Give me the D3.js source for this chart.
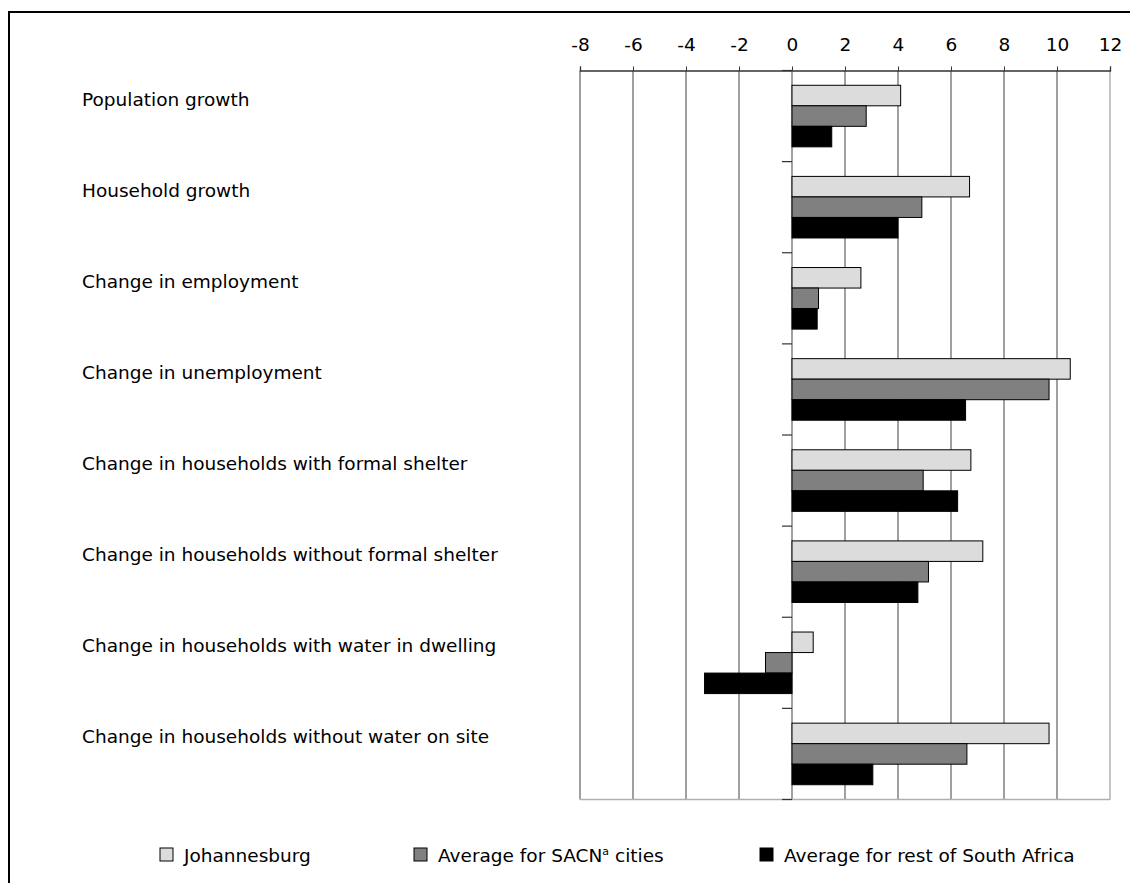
<!DOCTYPE html>
<html>
<head>
<meta charset="utf-8">
<script src="https://cdn.jsdelivr.net/npm/d3@7"></script>
<style>
html,body{margin:0;padding:0;background:#fff;}
svg text{font-family:"DejaVu Sans",Verdana,sans-serif;fill:#000;}
</style>
</head>
<body>
<svg id="chart" width="1130" height="883"></svg>
<script>
const categories = [
  "Population growth",
  "Household growth",
  "Change in employment",
  "Change in unemployment",
  "Change in households with formal shelter",
  "Change in households without formal shelter",
  "Change in households with water in dwelling",
  "Change in households without water on site"
];
const seriesNames = ["Johannesburg", "Average for SACN", "Average for rest of South Africa"];
const johannesburg = [4.1, 6.7, 2.6, 10.5, 6.75, 7.2, 0.8, 9.7];
const sacnAverage  = [2.8, 4.9, 1.0, 9.7, 4.95, 5.15, -1.0, 6.6];
const restOfSA     = [1.5, 4.0, 0.95, 6.55, 6.25, 4.75, -3.3, 3.05];
const tickValues = [-8, -6, -4, -2, 0, 2, 4, 6, 8, 10, 12];
const colors = ["#dcdcdc", "#808080", "#000000"];

const svg = d3.select("#chart");
const series = [johannesburg, sacnAverage, restOfSA];
const FS = 18.5;

// frame
svg.append("path").attr("d", "M9,883 V12 H1130").attr("fill", "none")
  .attr("stroke", "#000").attr("stroke-width", 2);

const x = d3.scaleLinear().domain([-8, 12]).range([580, 1110]);
const y = d3.scaleBand().domain(categories).range([70.5, 799.5]);
const inner = d3.scaleBand().domain([0, 1, 2]).range([0, y.bandwidth()]).paddingOuter(0.72).paddingInner(0);

// gridlines
svg.append("g").selectAll("line").data(tickValues).join("line")
  .attr("x1", d => x(d)).attr("x2", d => x(d))
  .attr("y1", y.range()[0]).attr("y2", y.range()[1])
  .attr("stroke", d => d === 12 ? "#b0b0b0" : "#808080")
  .attr("stroke-width", 1.5);
// bottom line
svg.append("line").attr("x1", x(-8)).attr("x2", x(12))
  .attr("y1", y.range()[1]).attr("y2", y.range()[1])
  .attr("stroke", "#b0b0b0").attr("stroke-width", 1.5);

// bars
const g = svg.append("g");
series.forEach((vals, si) => {
  g.append("g").selectAll("rect").data(vals).join("rect")
    .attr("x", d => x(Math.min(0, d)))
    .attr("width", d => Math.abs(x(d) - x(0)))
    .attr("y", (d, i) => y(categories[i]) + inner(si))
    .attr("height", inner.bandwidth())
    .attr("fill", colors[si])
    .attr("stroke", "#000").attr("stroke-width", 1);
});

// top axis
const xAxis = d3.axisTop(x).tickValues(tickValues).tickSize(4).tickPadding(15.5).tickFormat(d => String(d));
const ax = svg.append("g").attr("transform", `translate(0,${y.range()[0]})`).call(xAxis);
ax.select(".domain").attr("stroke", "#333").attr("stroke-width", 1.3);
ax.selectAll(".tick line").attr("stroke", "#333");
ax.selectAll(".tick text").attr("font-size", FS).attr("font-family", "DejaVu Sans").attr("fill", "#000");

// category ticks on zero line
const bounds = categories.map((c, i) => y(c)).concat([y.range()[1]]);
svg.append("g").selectAll("line").data(bounds).join("line")
  .attr("x1", x(0) - 10).attr("x2", x(0))
  .attr("y1", d => d).attr("y2", d => d)
  .attr("stroke", "#333").attr("stroke-width", 1.2);

// category labels
svg.append("g").selectAll("text").data(categories).join("text")
  .attr("x", 82).attr("y", d => y(d) + 35)
  .attr("font-size", FS).text(d => d);

// legend
const legendX = [160, 414, 760];
const lg = svg.append("g");
seriesNames.forEach((name, i) => {
  lg.append("rect").attr("x", legendX[i]).attr("y", 848).attr("width", 13).attr("height", 13)
    .attr("fill", colors[i]).attr("stroke", "#000").attr("stroke-width", 1);
  const t = lg.append("text").attr("x", legendX[i] + 24).attr("y", 862)
    .attr("font-size", FS).text(name);
  if (i === 1) {
    t.append("tspan").attr("font-size", 11).attr("dy", -7).text("a");
    t.append("tspan").attr("dy", 7).text(" cities");
  }
});
</script>
</body>
</html>
